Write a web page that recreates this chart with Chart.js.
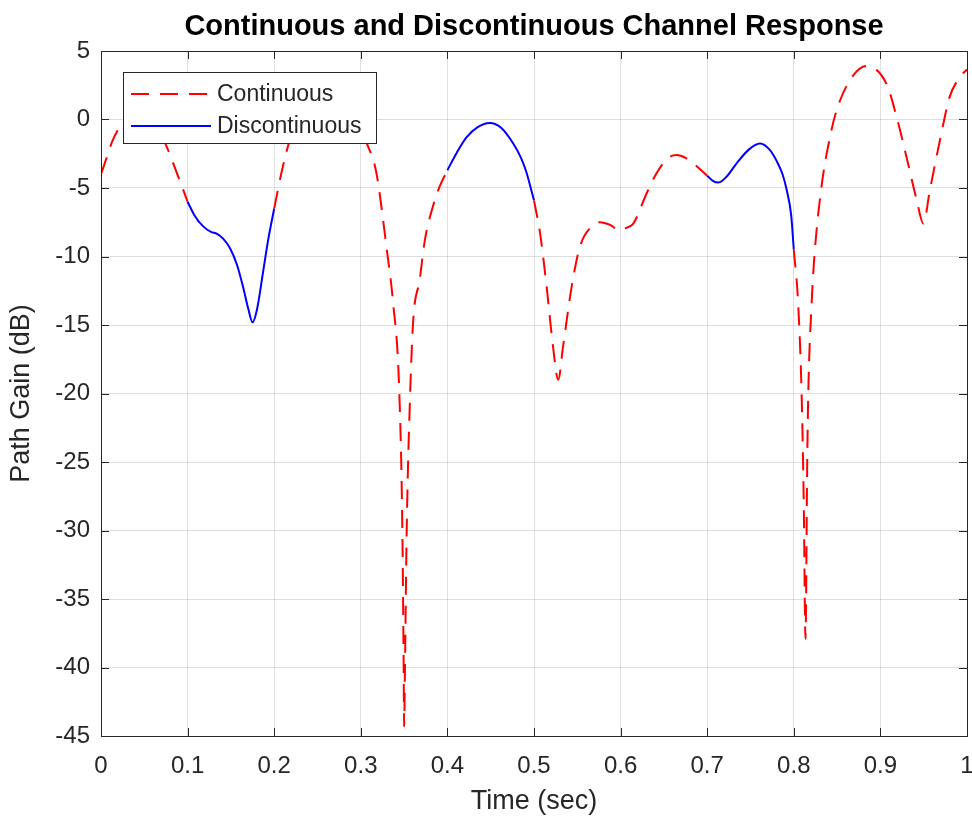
<!DOCTYPE html>
<html>
<head>
<meta charset="utf-8">
<script src="https://cdn.jsdelivr.net/npm/chart.js@4"></script>
<style>
  html, body { margin: 0; padding: 0; background: #fff; }
</style>
</head>
<body>
<canvas id="chart" width="972" height="819"></canvas>
<script>
// red dashed series, null = gap where the discontinuous segment is drawn
const contTime = [
  0.000, 0.007, 0.013, 0.022, 0.034, 0.047, 0.060, 0.074, 0.087, 0.100,
  0.150,
  0.200, 0.208, 0.218, 0.232, 0.247, 0.262, 0.277, 0.292, 0.307, 0.318,
  0.330, 0.337, 0.3445, 0.348, 0.3495, 0.350, 0.351, 0.353, 0.357, 0.3606,
  0.368, 0.374, 0.383, 0.391, 0.400,
  0.450,
  0.500, 0.507, 0.5146, 0.522, 0.528, 0.5335, 0.5435, 0.553, 0.5685, 0.576,
  0.588, 0.599, 0.607, 0.6147, 0.630, 0.6417, 0.655, 0.6648, 0.675, 0.684, 0.700,
  0.750,
  0.800, 0.805, 0.809, 0.8115, 0.8135, 0.8155, 0.8167, 0.8206, 0.824, 0.832,
  0.8418, 0.8495, 0.8648, 0.884, 0.907, 0.9187, 0.930, 0.942, 0.9496, 0.957,
  0.9688, 0.980, 0.9919, 1.000
];
const contGain = [
  -4.0, -2.7, -1.6, -0.5, 0.5, 0.8, 0.1, -1.7, -3.8, -6.0,
  null,
  -6.5, -4.0, -1.5, 0.7, 2.0, 2.4, 1.8, 0.3, -1.75, -3.9,
  -9.5, -13.2, -20, -30, -40, -44.3, -40, -30, -20, -14.6,
  -11.7, -8.8, -6.4, -4.9, -3.7,
  null,
  -5.9, -8.3, -12.2, -16.6, -19.0, -16.6, -12.2, -9.3, -7.7, -7.5,
  -7.7, -8.1, -7.9, -7.6, -5.4, -3.9, -2.8, -2.6, -2.8, -3.2, -4.1,
  null,
  -9.5, -13.4, -20, -28, -37.9, -25, -20, -13.4, -9.8, -4.9,
  -1.27, 0.68, 2.87, 3.9, 2.6, 0.2, -2.7, -5.9, -7.6, -5.2,
  -1.5, 1.65, 3.1, 3.65
];

// blue solid series
const discTime = [
  0.100, 0.108, 0.118, 0.127, 0.134, 0.141, 0.149, 0.157, 0.164, 0.170,
  0.175, 0.180, 0.187, 0.193, 0.200,
  0.250,
  0.400, 0.411, 0.422, 0.435, 0.449, 0.462, 0.476, 0.485, 0.4915, 0.500,
  0.550,
  0.700, 0.707, 0.713, 0.722, 0.734, 0.748, 0.761, 0.772, 0.780, 0.787,
  0.792, 0.797, 0.800
];
const discGain = [
  -6.0, -7.0, -7.8, -8.2, -8.35, -8.7, -9.4, -10.6, -12.2, -13.8,
  -14.8, -13.9, -11.2, -8.8, -6.5,
  null,
  -3.7, -2.4, -1.3, -0.55, -0.25, -0.6, -1.75, -2.8, -3.9, -5.9,
  null,
  -4.1, -4.5, -4.6, -4.2, -3.2, -2.2, -1.75, -2.2, -3.0, -4.0,
  -5.2, -7.0, -9.5
];

const seriesLabels = ['Continuous', 'Discontinuous'];

const FONT = "'Liberation Sans', Arial, Helvetica, sans-serif";
const AXIS_COLOR = '#262626';

// box round the axes with inward ticks on all four sides
const framePlugin = {
  id: 'frame',
  afterDatasetsDraw(chart) {
    const { ctx, chartArea: a, scales } = chart;
    const len = 8;
    ctx.save();
    ctx.strokeStyle = AXIS_COLOR;
    ctx.lineWidth = 1;
    ctx.beginPath();
    scales.x.ticks.forEach(t => {
      const px = Math.round(scales.x.getPixelForValue(t.value)) + 0.5;
      ctx.moveTo(px, a.bottom); ctx.lineTo(px, a.bottom - len);
      ctx.moveTo(px, a.top); ctx.lineTo(px, a.top + len);
    });
    scales.y.ticks.forEach(t => {
      const py = Math.round(scales.y.getPixelForValue(t.value)) + 0.5;
      ctx.moveTo(a.left, py); ctx.lineTo(a.left + len, py);
      ctx.moveTo(a.right, py); ctx.lineTo(a.right - len, py);
    });
    ctx.stroke();
    ctx.strokeRect(Math.round(a.left) + 0.5, Math.round(a.top) + 0.5,
      Math.round(a.right - a.left), Math.round(a.bottom - a.top));
    ctx.restore();
  }
};

// legend box in the top-left corner of the axes
const boxLegendPlugin = {
  id: 'boxLegend',
  afterDraw(chart) {
    const { ctx, chartArea: a } = chart;
    const x0 = a.left + 22, y0 = a.top + 21, w = 253, h = 71;
    ctx.save();
    ctx.fillStyle = '#fff';
    ctx.fillRect(x0, y0, w, h);
    ctx.strokeStyle = AXIS_COLOR;
    ctx.lineWidth = 1;
    ctx.strokeRect(Math.round(x0) + 0.5, Math.round(y0) + 0.5, w, h);
    chart.data.datasets.forEach((ds, i) => {
      const y = y0 + 22 + i * 32;
      ctx.strokeStyle = ds.borderColor;
      ctx.lineWidth = ds.borderWidth;
      ctx.setLineDash(ds.borderDash || []);
      ctx.beginPath();
      ctx.moveTo(x0 + 8, y);
      ctx.lineTo(x0 + 88, y);
      ctx.stroke();
      ctx.setLineDash([]);
      ctx.fillStyle = AXIS_COLOR;
      ctx.font = `23px ${FONT}`;
      ctx.textAlign = 'left';
      ctx.textBaseline = 'middle';
      ctx.fillText(ds.label, x0 + 94, y + 1);
    });
    ctx.restore();
  }
};

new Chart(document.getElementById('chart'), {
  type: 'line',
  data: {
    datasets: [
      {
        label: seriesLabels[0],
        data: contTime.map((t, i) => ({ x: t, y: contGain[i] })),
        borderColor: '#ff0000',
        borderWidth: 2,
        borderDash: [18, 11],
        pointRadius: 0,
        cubicInterpolationMode: 'monotone',
        spanGaps: false,
      },
      {
        label: seriesLabels[1],
        data: discTime.map((t, i) => ({ x: t, y: discGain[i] })),
        borderColor: '#0000ff',
        borderWidth: 2,
        pointRadius: 0,
        cubicInterpolationMode: 'monotone',
        spanGaps: false,
      }
    ]
  },
  options: {
    responsive: false,
    animation: false,
    layout: { padding: { left: 0, right: 5, top: 0, bottom: 0 } },
    plugins: {
      legend: { display: false },
      tooltip: { enabled: false },
      title: {
        display: true,
        fullSize: false,
        text: 'Continuous and Discontinuous Channel Response',
        color: '#000',
        font: { family: FONT, size: 29, weight: 'bold' },
        padding: { top: 9.6, bottom: 6.6 }
      }
    },
    scales: {
      x: {
        type: 'linear',
        min: 0,
        max: 1,
        afterFit(s) {
          s.height = 83;
          s.paddingLeft = 0;
          s.paddingRight = 0;
        },
        border: { display: false },
        grid: { color: 'rgba(38,38,38,0.15)', drawTicks: false },
        ticks: {
          stepSize: 0.1,
          padding: 16,
          color: AXIS_COLOR,
          font: { family: FONT, size: 24 },
          maxRotation: 0,
          autoSkip: false,
          callback: v => String(Number(v.toFixed(1)))
        },
        title: {
          display: true,
          text: 'Time (sec)',
          color: AXIS_COLOR,
          font: { family: FONT, size: 27 },
          padding: { top: 0, bottom: 0.8 }
        }
      },
      y: {
        min: -45,
        max: 5,
        afterFit(s) {
          s.width = 101;
          s.paddingTop = 0;
          s.paddingBottom = 0;
        },
        border: { display: false },
        grid: { color: 'rgba(38,38,38,0.15)', drawTicks: false },
        ticks: {
          stepSize: 5,
          padding: 11,
          color: AXIS_COLOR,
          font: { family: FONT, size: 24 },
          autoSkip: false
        },
        title: {
          display: true,
          text: 'Path Gain (dB)',
          color: AXIS_COLOR,
          font: { family: FONT, size: 27 },
          padding: { top: 5.8, bottom: 0 }
        }
      }
    }
  },
  plugins: [framePlugin, boxLegendPlugin]
});
</script>
</body>
</html>
